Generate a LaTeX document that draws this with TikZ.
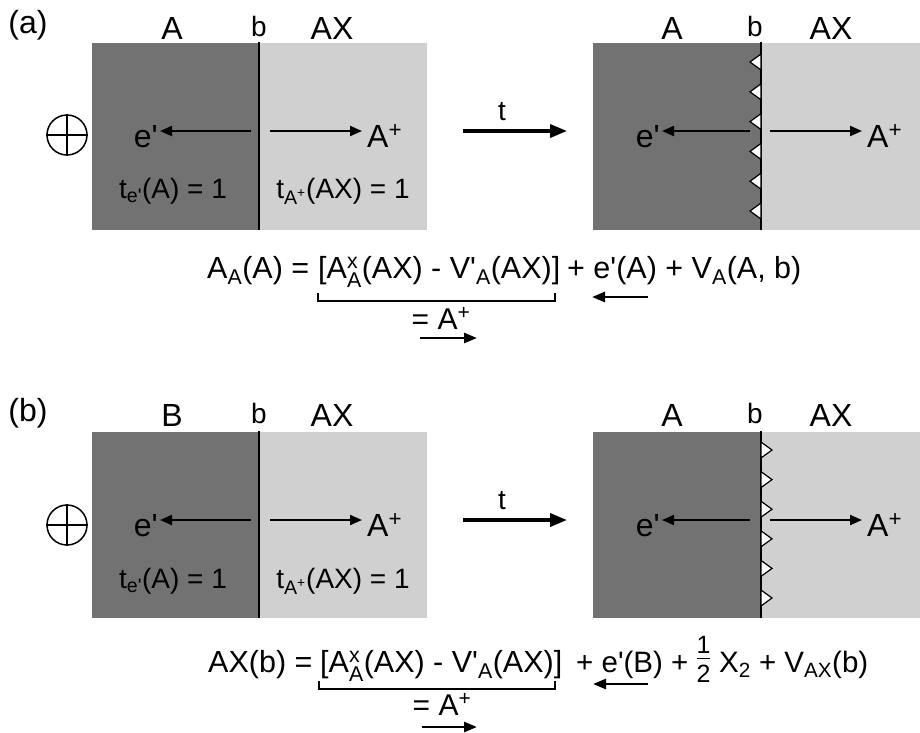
\documentclass[tikz,border=0pt]{standalone}
\usepackage{amsmath}
\usepackage{fontspec}
\setmainfont{Liberation Sans}
\usepackage{xcolor}
\usetikzlibrary{arrows.meta}

\definecolor{phasedark}{RGB}{114,114,114}
\definecolor{phaselight}{RGB}{208,208,208}
\newcommand{\pr}{\textquotesingle}
\newcommand{\sxa}{A$^{\text{x}}_{\text{A}}$}

\begin{document}
\begin{tikzpicture}[
    x=1pt, y=-1pt,
    lbl/.style={font=\fontsize{32}{34}\selectfont, inner sep=0pt},
    blbl/.style={font=\fontsize{28}{30}\selectfont, inner sep=0pt},
    tlbl/.style={font=\fontsize{28}{30}\selectfont, inner sep=0pt, anchor=base},
    spc/.style={font=\fontsize{32}{34}\selectfont, inner sep=0pt},
    eqn/.style={font=\fontsize{30.5}{32}\selectfont, inner sep=0pt, anchor=base west},
    eqs/.style={eqn, font=\fontsize{29.5}{31}\selectfont},
    frc/.style={font=\fontsize{25}{25}\selectfont, inner sep=0pt, anchor=base},
    res/.style={font=\fontsize{30}{32}\selectfont, inner sep=0pt, anchor=base},
    arr/.style={-{Triangle[length=12pt,width=10pt]}, line width=2pt},
    earr/.style={-{Triangle[length=13pt,width=10pt]}, line width=2.6pt},
    tarr/.style={-{Triangle[length=17pt,width=13pt]}, line width=3.5pt},
    bnd/.style={line width=2pt},
    brk/.style={line width=1.2pt},
    tri/.style={draw, fill=white, line width=1.2pt, line join=miter},
    plus/.style={circle, draw, line width=1.5pt, minimum size=40pt, inner sep=0pt}
]
\useasboundingbox (0,0) rectangle (920,732);

% ---------------- panel (a)
\fill[phasedark]  (92,43) rectangle (259,230);
\fill[phaselight] (259,43) rectangle (427,230);
\fill[phasedark]  (593,43) rectangle (761,230);
\fill[phaselight] (761,43) rectangle (920,230);
\coordinate (bA1t) at (259,42); \coordinate (bA1b) at (259,230);
\coordinate (bA2t) at (761,42); \coordinate (bA2b) at (761,230);
\draw[bnd] (bA1t) -- (bA1b);
\draw[bnd] (bA2t) -- (bA2b);
\foreach \yy in {62,91.8,121.6,151.4,181.2,211}
  \draw[tri] (761,\yy-8) -- (750,\yy) -- (761,\yy+8) -- cycle;

\node[lbl] (tagA) at (28,25) {(a)};
\node[lbl] (phA1) at (172,28) {A};
\node[blbl] (bndA1) at (259,26) {b};
\node[lbl] (axA1) at (332,28) {AX};
\node[lbl] (phA2) at (672,28) {A};
\node[blbl] (bndA2) at (755,26) {b};
\node[lbl] (axA2) at (831,28) {AX};

\node[plus] (plusA) at (67,135) {};
\draw[line width=1.5pt] (plusA.north) -- (plusA.south);
\draw[line width=1.5pt] (plusA.west) -- (plusA.east);

\node[spc, anchor=base east] (eA1) at (158,147) {e\pr};
\node[spc, anchor=base west] (apA1) at (367,147) {A\textsuperscript{+}};
\coordinate (mA1l) at (251,131); \coordinate (mA1r) at (270,131);
\draw[arr] (mA1l) -- ([xshift=2pt]mA1l -| eA1.east);
\draw[arr] (mA1r) -- ([xshift=-5pt]mA1r -| apA1.west);
\node[tlbl] (teA) at (173,198) {t\textsubscript{e\pr}(A) = 1};
\node[tlbl] (taA) at (343,198) {t\textsubscript{A\textsuperscript{+}}(AX) = 1};

\node[blbl, anchor=base] (timeA) at (502,120) {t};
\coordinate (tA0) at (463,131); \coordinate (tA1) at (567,131);
\draw[tarr] (tA0) -- (tA1);

\node[spc, anchor=base east] (eA2) at (660,147) {e\pr};
\node[spc, anchor=base west] (apA2) at (867,147) {A\textsuperscript{+}};
\coordinate (mA2l) at (750,131); \coordinate (mA2r) at (770,131);
\draw[arr] (mA2l) -- ([xshift=2pt]mA2l -| eA2.east);
\draw[arr] (mA2r) -- ([xshift=-5pt]mA2r -| apA2.west);

\node[eqn] (eqA1) at (207,278) {A\textsubscript{A}(A) =};
\node[eqn] (eqA2) at (318,278) {[\sxa(AX) - V\pr\textsubscript{A}(AX)]};
\node[eqn] (eqA3) at (567,278) {+ e\pr(A) + V\textsubscript{A}(A, b)};
\coordinate (brA0) at (318,293); \coordinate (brA1) at (555,293);
\draw[brk] (brA0) -- ++(0,8) -| (brA1);
\coordinate (laA0) at (648,297); \coordinate (laA1) at (592,297);
\draw[earr] (laA0) -- (laA1);
\node[res] (resA) at (441,329) {= A\textsuperscript{+}};
\coordinate (raA0) at (420,338); \coordinate (raA1) at (477,338);
\draw[earr] (raA0) -- (raA1);

% ---------------- panel (b)
\fill[phasedark]  (92,432) rectangle (259,618);
\fill[phaselight] (259,432) rectangle (427,618);
\fill[phasedark]  (593,432) rectangle (761,618);
\fill[phaselight] (761,432) rectangle (920,618);
\coordinate (bB1t) at (259,431); \coordinate (bB1b) at (259,618);
\coordinate (bB2t) at (761,431); \coordinate (bB2b) at (761,618);
\draw[bnd] (bB1t) -- (bB1b);
\draw[bnd] (bB2t) -- (bB2b);
\foreach \yy in {450,479.6,509.2,538.8,568.4,598}
  \draw[tri] (761,\yy-8) -- (772,\yy) -- (761,\yy+8) -- cycle;

\node[lbl] (tagB) at (28,413) {(b)};
\node[lbl] (phB1) at (172,415) {B};
\node[blbl] (bndB1) at (259,413) {b};
\node[lbl] (axB1) at (332,415) {AX};
\node[lbl] (phB2) at (672,415) {A};
\node[blbl] (bndB2) at (755,413) {b};
\node[lbl] (axB2) at (831,415) {AX};

\node[plus] (plusB) at (67,525) {};
\draw[line width=1.5pt] (plusB.north) -- (plusB.south);
\draw[line width=1.5pt] (plusB.west) -- (plusB.east);

\node[spc, anchor=base east] (eB1) at (158,536) {e\pr};
\node[spc, anchor=base west] (apB1) at (367,536) {A\textsuperscript{+}};
\coordinate (mB1l) at (251,520); \coordinate (mB1r) at (270,520);
\draw[arr] (mB1l) -- ([xshift=2pt]mB1l -| eB1.east);
\draw[arr] (mB1r) -- ([xshift=-5pt]mB1r -| apB1.west);
\node[tlbl] (teB) at (173,588) {t\textsubscript{e\pr}(A) = 1};
\node[tlbl] (taB) at (343,588) {t\textsubscript{A\textsuperscript{+}}(AX) = 1};

\node[blbl, anchor=base] (timeB) at (502,509) {t};
\coordinate (tB0) at (463,520); \coordinate (tB1) at (567,520);
\draw[tarr] (tB0) -- (tB1);

\node[spc, anchor=base east] (eB2) at (660,536) {e\pr};
\node[spc, anchor=base west] (apB2) at (867,536) {A\textsuperscript{+}};
\coordinate (mB2l) at (750,520); \coordinate (mB2r) at (770,520);
\draw[arr] (mB2l) -- ([xshift=2pt]mB2l -| eB2.east);
\draw[arr] (mB2r) -- ([xshift=-5pt]mB2r -| apB2.west);

\node[eqn] (eqB1) at (208,672) {AX(b) =};
\node[eqn] (eqB2) at (320,672) {[\sxa(AX) - V\pr\textsubscript{A}(AX)]};
\node[eqs] (eqB3) at (576,672) {+ e\pr(B) +};
\node[frc] (numB) at (703.5,653) {1};
\node[frc] (denB) at (703.5,682) {2};
\coordinate (fbB0) at (697,658.5); \coordinate (fbB1) at (710,658.5);
\draw[line width=0.7pt] (fbB0) -- (fbB1);
\node[eqs] (eqB4) at (719,672) {X\textsubscript{2} + V\textsubscript{AX}(b)};
\coordinate (brB0) at (319,681); \coordinate (brB1) at (555,681);
\draw[brk] (brB0) -- ++(0,8) -| (brB1);
\coordinate (laB0) at (648,684); \coordinate (laB1) at (593,684);
\draw[earr] (laB0) -- (laB1);
\node[res] (resB) at (442,715) {= A\textsuperscript{+}};
\coordinate (raB0) at (422,727); \coordinate (raB1) at (477,727);
\draw[earr] (raB0) -- (raB1);
\end{tikzpicture}
\end{document}
